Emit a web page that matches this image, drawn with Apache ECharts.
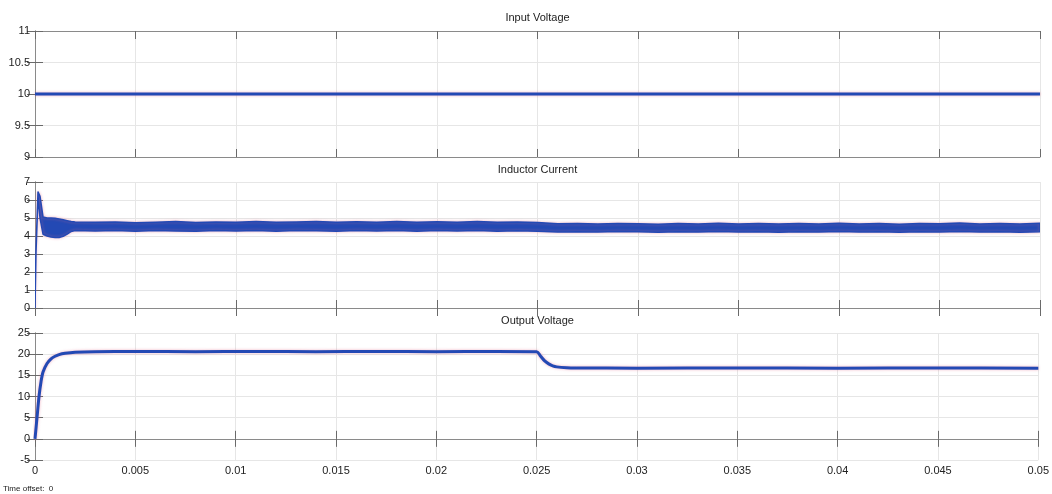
<!DOCTYPE html>
<html>
<head>
<meta charset="utf-8">
<script src="https://cdn.jsdelivr.net/npm/echarts@6/dist/echarts.min.js"></script>
<style>
html,body{margin:0;padding:0;background:#fff;}
#chart{width:1052px;height:494px;}
</style>
</head>
<body>
<div id="chart"></div>
<script>
// ---- data ----
const panelTitles = ['Input Voltage', 'Inductor Current', 'Output Voltage'];
const xTicks = [0, 0.005, 0.01, 0.015, 0.02, 0.025, 0.03, 0.035, 0.04, 0.045, 0.05];
const yTicksVin = [9, 9.5, 10, 10.5, 11];
const yTicksIl = [0, 1, 2, 3, 4, 5, 6, 7];
const yTicksVout = [-5, 0, 5, 10, 15, 20, 25];

const vinT = [0, 0.05];
const vinV = [10, 10];

const ilT  = [0, 0.00005, 0.00015, 0.00025, 0.0004, 0.0006, 0.0008, 0.001, 0.0012, 0.0014, 0.0016, 0.0018, 0.002,
  0.003, 0.004, 0.005, 0.006, 0.007, 0.008, 0.009, 0.010, 0.011, 0.012, 0.013, 0.014, 0.015, 0.016, 0.017, 0.018, 0.019,
  0.020, 0.021, 0.022, 0.023, 0.024, 0.025, 0.026, 0.027, 0.028, 0.029, 0.030, 0.031, 0.032, 0.033, 0.034, 0.035, 0.036,
  0.037, 0.038, 0.039, 0.040, 0.041, 0.042, 0.043, 0.044, 0.045, 0.046, 0.047, 0.048, 0.049, 0.050];
const ilLo = [0, 3.1, 6.2, 5.0, 4.1, 4.0, 3.95, 3.92, 3.92, 3.98, 4.1, 4.25, 4.3,
  4.28, 4.3, 4.27, 4.3, 4.28, 4.26, 4.3, 4.28, 4.3, 4.27, 4.3, 4.29, 4.27, 4.3, 4.28, 4.3, 4.27,
  4.3, 4.28, 4.3, 4.27, 4.29, 4.27, 4.22, 4.24, 4.22, 4.25, 4.23, 4.21, 4.24, 4.22, 4.25, 4.22, 4.24,
  4.21, 4.24, 4.22, 4.25, 4.22, 4.23, 4.21, 4.24, 4.22, 4.25, 4.22, 4.24, 4.21, 4.23];
const ilHi = [0, 3.3, 6.45, 6.2, 5.05, 5.0, 5.0, 4.98, 4.95, 4.9, 4.85, 4.8, 4.78,
  4.76, 4.78, 4.74, 4.77, 4.8, 4.75, 4.78, 4.76, 4.8, 4.76, 4.78, 4.8, 4.76, 4.79, 4.77, 4.8, 4.76,
  4.79, 4.77, 4.8, 4.76, 4.78, 4.75, 4.68, 4.7, 4.66, 4.7, 4.68, 4.65, 4.7, 4.67, 4.71, 4.66, 4.69,
  4.66, 4.7, 4.67, 4.71, 4.66, 4.69, 4.65, 4.7, 4.68, 4.72, 4.66, 4.7, 4.67, 4.71];

const voT = [0, 0.0001, 0.0002, 0.0003, 0.0004, 0.0006, 0.0008, 0.001, 0.0012, 0.0015, 0.002, 0.003, 0.005, 0.008,
  0.011, 0.014, 0.017, 0.02, 0.023, 0.025, 0.0252, 0.0254, 0.0256, 0.0258, 0.026, 0.0265, 0.027, 0.03, 0.035, 0.04, 0.045, 0.05];
const voV = [0, 5, 10, 13.5, 15.8, 17.8, 18.9, 19.5, 19.9, 20.2, 20.45, 20.6, 20.65, 20.6,
  20.65, 20.6, 20.65, 20.6, 20.65, 20.6, 19.5, 18.4, 17.7, 17.25, 17.0, 16.8, 16.75, 16.7, 16.75, 16.7, 16.75, 16.7];

// ---- chart ----
const BLUE = '#2349b4';
const FONT = 'Liberation Sans';
const grids = [
  {left: 35, right: 12, top: 31, height: 126},
  {left: 35, right: 12, top: 182, height: 126},
  {left: 35, right: 12, top: 333, height: 127}
];
const yTickSets = [yTicksVin, yTicksIl, yTicksVout];

const axisLine = {show: true, lineStyle: {color: '#8a8a8a', width: 1}};
const tick = {show: true, inside: true, length: 8, lineStyle: {color: '#6a6a6a', width: 1}};
const split = {show: true, lineStyle: {color: '#e6e6e6', width: 1}};

const xAxes = [], yAxes = [];
grids.forEach((g, i) => {
  const xmin = xTicks[0], xmax = xTicks[xTicks.length - 1];
  const xint = xTicks[1] - xTicks[0];
  xAxes.push({
    type: 'value', gridIndex: i, position: 'bottom', min: xmin, max: xmax, interval: xint,
    axisLine, axisTick: tick, splitLine: split,
    axisLabel: {show: i === 2, color: '#222', fontSize: 11, fontFamily: FONT, margin: 5,
      formatter: v => String(+v.toFixed(3))}
  });
  xAxes.push({
    type: 'value', gridIndex: i, position: 'top', min: xmin, max: xmax, interval: xint,
    axisLine, axisTick: tick, splitLine: {show: false}, axisLabel: {show: false}
  });
  const yt = yTickSets[i];
  const ymin = yt[0], ymax = yt[yt.length - 1], yint = yt[1] - yt[0];
  yAxes.push({
    type: 'value', gridIndex: i, position: 'left', min: ymin, max: ymax, interval: yint,
    axisLine, axisTick: tick, splitLine: split,
    axisLabel: {show: true, color: '#222', fontSize: 11, fontFamily: FONT, margin: 5,
      formatter: v => String(+v.toFixed(2))}
  });
  yAxes.push({
    type: 'value', gridIndex: i, position: 'right', min: ymin, max: ymax, interval: yint,
    axisLine, axisTick: tick, splitLine: {show: false}, axisLabel: {show: false}
  });
});

const lineStyleMain = {color: BLUE, width: 3, shadowColor: 'rgba(230,110,140,0.55)', shadowBlur: 3};

const option = {
  animation: false,
  backgroundColor: '#ffffff',
  grid: grids,
  xAxis: xAxes,
  yAxis: yAxes,
  graphic: [
    {type: 'text', x: 537.5, y: 18, style: {text: panelTitles[0], fill: '#222', font: '11px "Liberation Sans"', textAlign: 'center', textVerticalAlign: 'middle'}},
    {type: 'text', x: 537.5, y: 170, style: {text: panelTitles[1], fill: '#222', font: '11px "Liberation Sans"', textAlign: 'center', textVerticalAlign: 'middle'}},
    {type: 'text', x: 537.5, y: 321, style: {text: panelTitles[2], fill: '#222', font: '11px "Liberation Sans"', textAlign: 'center', textVerticalAlign: 'middle'}},
    {type: 'text', x: 3, y: 489, style: {text: 'Time offset:  0', fill: '#222', font: '8px "Liberation Sans"', textVerticalAlign: 'middle'}}
  ],
  series: [
    {
      type: 'line', xAxisIndex: 0, yAxisIndex: 0, showSymbol: false, symbol: 'none',
      data: vinT.map((t, k) => [t, vinV[k]]), lineStyle: lineStyleMain
    },
    {
      type: 'custom', xAxisIndex: 2, yAxisIndex: 2,
      data: [[ilT[ilT.length - 1] / 2, ilHi[ilHi.length - 1]]],
      encode: {x: 0, y: 1},
      clip: true,
      renderItem: function (params, api) {
        if (params.dataIndex !== 0) return null;
        const pts = [];
        for (let k = 0; k < ilT.length; k++) pts.push(api.coord([ilT[k], ilHi[k]]));
        for (let k = ilT.length - 1; k >= 0; k--) pts.push(api.coord([ilT[k], ilLo[k]]));
        return {
          type: 'polygon',
          shape: {points: pts, smooth: 0},
          style: {fill: BLUE, stroke: BLUE, lineWidth: 1.5, lineJoin: 'round',
            shadowColor: 'rgba(230,110,140,0.45)', shadowBlur: 3}
        };
      }
    },
    {
      type: 'line', xAxisIndex: 4, yAxisIndex: 4, showSymbol: false, symbol: 'none', smooth: 0.3,
      data: voT.map((t, k) => [t, voV[k]]), lineStyle: lineStyleMain
    }
  ]
};

const chart = echarts.init(document.getElementById('chart'), null, {renderer: 'canvas'});
chart.setOption(option);
</script>
</body>
</html>
